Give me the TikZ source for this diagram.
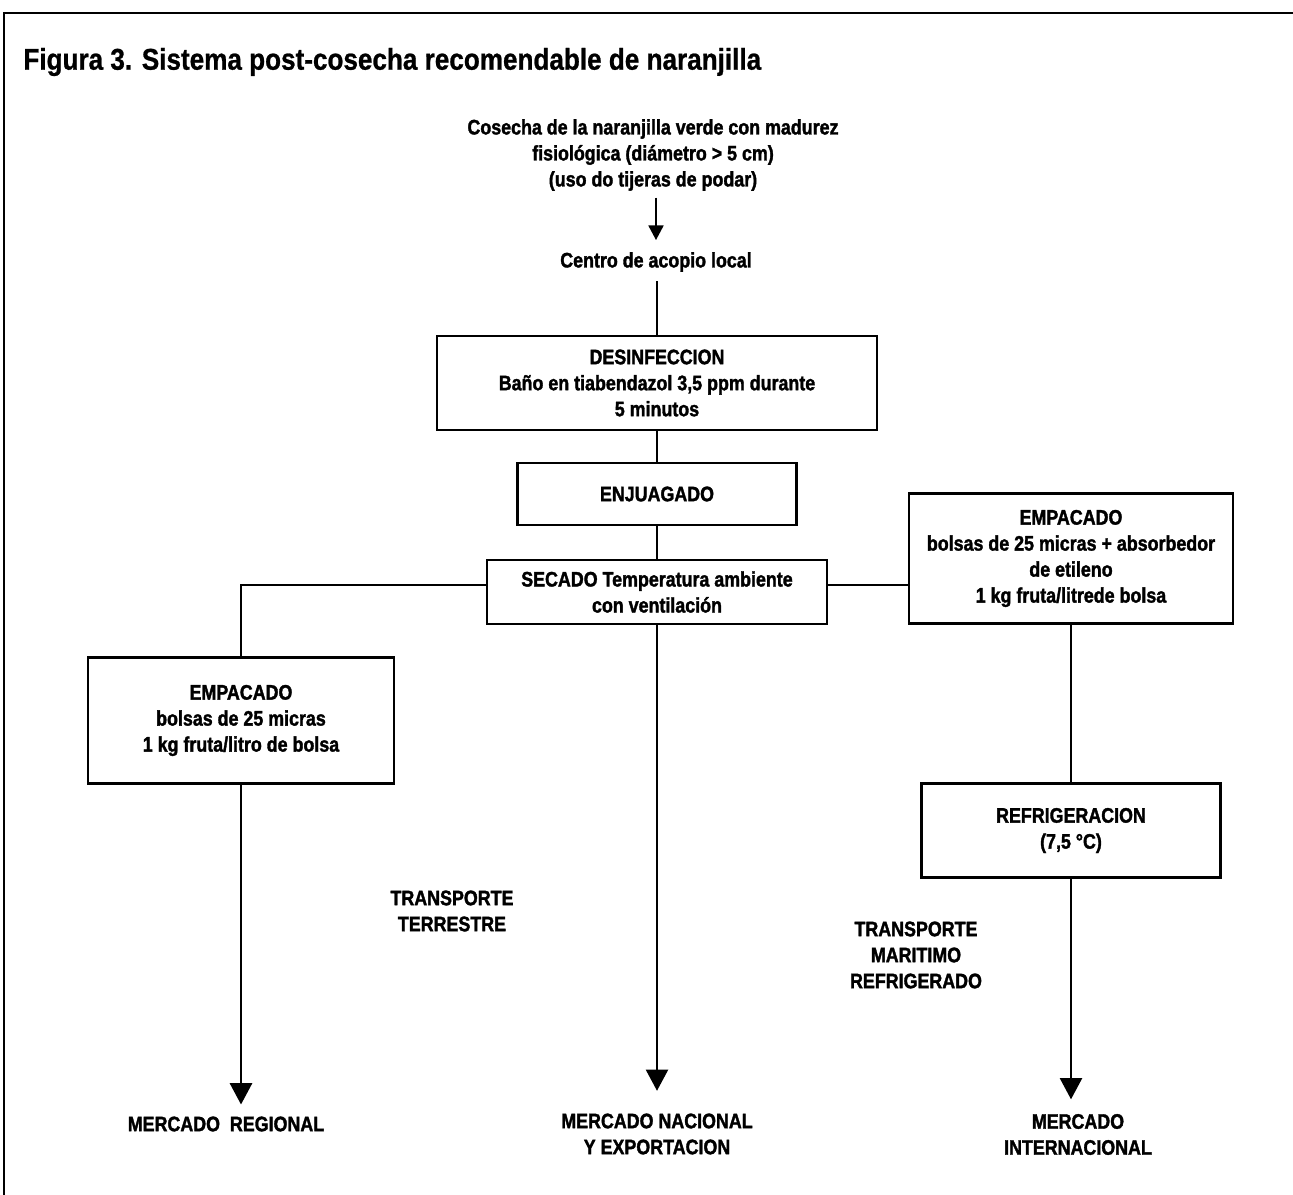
\documentclass[tikz,border=0pt]{standalone}
\usepackage{fontspec}
\setmainfont{Liberation Sans}
\newfontfamily\titlefont{Liberation Sans}[UprightFont={* Bold}, FakeStretch=0.87, FakeBold=0.8]
\newfontfamily\blockfont{Liberation Sans}[UprightFont={* Bold}, FakeStretch=0.85, FakeBold=1.6]
\usetikzlibrary{arrows.meta, positioning}

\begin{document}
\begin{tikzpicture}[
    x=0.75pt, y=-0.75pt,
    line width=2.1pt,
    block/.style={draw, align=center, inner sep=0pt, font=\blockfont\fontsize{15.75}{19.5}\selectfont},
    txt/.style={align=center, inner sep=0pt, font=\blockfont\fontsize{15.75}{19.5}\selectfont},
    arrow/.style={-{Triangle[width=16.5pt, length=16pt]}},
    smallarrow/.style={-{Triangle[width=11pt, length=11pt]}}
]
\useasboundingbox (0,0) rectangle (1293,1195);

% frame and title
\draw[line width=1.5pt] (1293,13) -- (4,13) -- (4,1195);
\node[anchor=west, inner sep=0pt, font=\titlefont\fontsize{22.5}{27}\selectfont] (title) at (22,62) {Figura 3. Sistema post-cosecha recomendable de naranjilla};

% trunk
\node[txt] (cosecha) at (653,155) {Cosecha de la naranjilla verde con madurez\\ fisiológica (diámetro > 5 cm)\\ (uso do tijeras de podar)};
\node[txt] (centro) at (656,262) {Centro de acopio local};
\node[block, minimum width=330pt, minimum height=70.5pt] (desinf) at (657,383) {DESINFECCION\\ Baño en tiabendazol 3,5 ppm durante\\ 5 minutos};
\node[block, minimum width=209pt, minimum height=46.5pt] (enjuag) at (657,494) {ENJUAGADO};
\node[block, minimum width=255pt, minimum height=48pt] (secado) at (657,592) {SECADO Temperatura ambiente\\ con ventilación};

% branches
\node[block, minimum width=229.5pt, minimum height=95pt] (empL) at (241,720.5) {EMPACADO\\ bolsas de 25 micras\\ 1 kg fruta/litro de bolsa};
\node[block, minimum width=243pt, minimum height=97pt] (empR) at (1071,558.5) {EMPACADO\\ bolsas de 25 micras + absorbedor\\ de etileno\\ 1 kg fruta/litrede bolsa};
\node[block, minimum width=224pt, minimum height=71pt] (refrig) at (1071,830.5) {REFRIGERACION\\ (7,5 °C)};

% transport and markets
\node[txt] (terrestre) at (452,911) {TRANSPORTE\\ TERRESTRE};
\node[txt] (maritimo) at (916,955) {TRANSPORTE\\ MARITIMO\\ REFRIGERADO};
\node[txt] (regional) at (226,1124) {MERCADO\ \ REGIONAL};
\node[txt] (nacional) at (657,1134) {MERCADO NACIONAL\\ Y EXPORTACION};
\node[txt] (internac) at (1078,1134.5) {MERCADO\\ INTERNACIONAL};

\coordinate (bus) at (657,585);

\draw[smallarrow, shorten <=4pt, shorten >=8pt] (cosecha.south -| centro) -- (centro.north);
\draw[shorten <=6pt] (centro.south -| desinf.north) -- (desinf.north);
\draw (desinf) -- (enjuag);
\draw (enjuag) -- (secado);
\draw (secado.west |- bus) -| (empL.north);
\draw (secado.east |- bus) -- (empR.west |- bus);
\draw (empR) -- (refrig);
\draw[arrow, shorten >=8pt] (empL) -- (empL.south |- regional.north);
\draw[arrow, shorten >=16pt] (secado) -- (secado.south |- nacional.north);
\draw[arrow, shorten >=10pt] (refrig.south) -- (refrig.south |- internac.north);
\end{tikzpicture}
\end{document}
